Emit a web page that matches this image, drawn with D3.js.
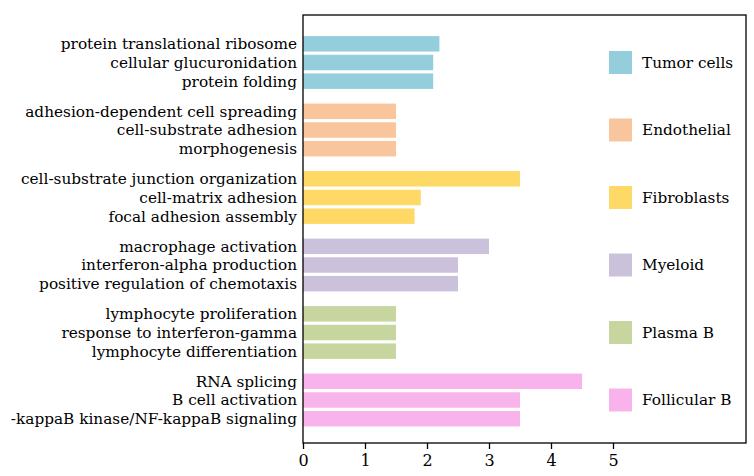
<!DOCTYPE html>
<html><head><meta charset="utf-8">
<script src="https://cdn.jsdelivr.net/npm/d3@7"></script>
<style>body{margin:0;background:#fff}svg{display:block}</style>
</head><body>
<script>
const groups = ["Tumor cells","Endothelial","Fibroblasts","Myeloid","Plasma B","Follicular B"];
const colors = ["#94CDDB","#F8C59C","#FFD966","#CCC1DB","#C6D69E","#F9B3EC"];
const terms = [
  ["protein translational ribosome","cellular glucuronidation","protein folding"],
  ["adhesion-dependent cell spreading","cell-substrate adhesion","morphogenesis"],
  ["cell-substrate junction organization","cell-matrix adhesion","focal adhesion assembly"],
  ["macrophage activation","interferon-alpha production","positive regulation of chemotaxis"],
  ["lymphocyte proliferation","response to interferon-gamma","lymphocyte differentiation"],
  ["RNA splicing","B cell activation","-kappaB kinase/NF-kappaB signaling"]
];
const values = [
  [2.2,2.1,2.1],
  [1.5,1.5,1.5],
  [3.5,1.9,1.8],
  [3.0,2.5,2.5],
  [1.5,1.5,1.5],
  [4.5,3.5,3.5]
];
const xTicks = [0,1,2,3,4,5];

const W=754,H=476;
const L=303,R=746,T=15,B=443;
const font="DejaVu Serif";
const fs=15.3;
const svg=d3.select("body").append("svg").attr("width",W).attr("height",H);

const x=d3.scaleLinear().domain([0,1]).range([L,L+62]);
const gy=d3.scaleBand().domain(groups).range([27.5,432.5]);
const iy=d3.scaleBand().domain([0,1,2]).range([0,56]).paddingInner(0.17).paddingOuter(0.085);

groups.forEach((g,gi)=>{
  const g0=gy(g)+7;
  const sel=svg.append("g");
  terms[gi].forEach((t,i)=>{
    sel.append("rect").attr("x",x(0)).attr("y",g0+iy(i))
      .attr("width",x(values[gi][i])-x(0)).attr("height",iy.bandwidth())
      .attr("fill",colors[gi]);
    sel.append("text").attr("x",L-6).attr("y",g0+iy(i)+iy.bandwidth()/2)
      .attr("dy","0.35em").attr("text-anchor","end")
      .attr("font-family",font).attr("font-size",fs).attr("fill","#000").text(t);
  });
  const cy=g0+iy(1)+iy.bandwidth()/2;
  svg.append("rect").attr("x",609).attr("y",cy-11.5).attr("width",23).attr("height",23).attr("fill",colors[gi]);
  svg.append("text").attr("x",642).attr("y",cy).attr("dy","0.35em")
    .attr("font-family",font).attr("font-size",fs).text(g);
});

// frame
svg.append("rect").attr("x",L).attr("y",T).attr("width",R-L).attr("height",B-T)
  .attr("fill","none").attr("stroke","#000").attr("stroke-width",1.3);

const ax=svg.append("g").attr("transform",`translate(0,${B})`)
  .call(d3.axisBottom(x).tickValues(xTicks).tickFormat(d3.format("d")).tickSize(6).tickSizeOuter(0));
ax.select(".domain").remove();
ax.selectAll("line").attr("stroke","#000").attr("stroke-width",1.3);
ax.selectAll("text").attr("font-family",font).attr("font-size",16).attr("fill","#000").attr("dy","0.9em");
</script>
</body></html>
